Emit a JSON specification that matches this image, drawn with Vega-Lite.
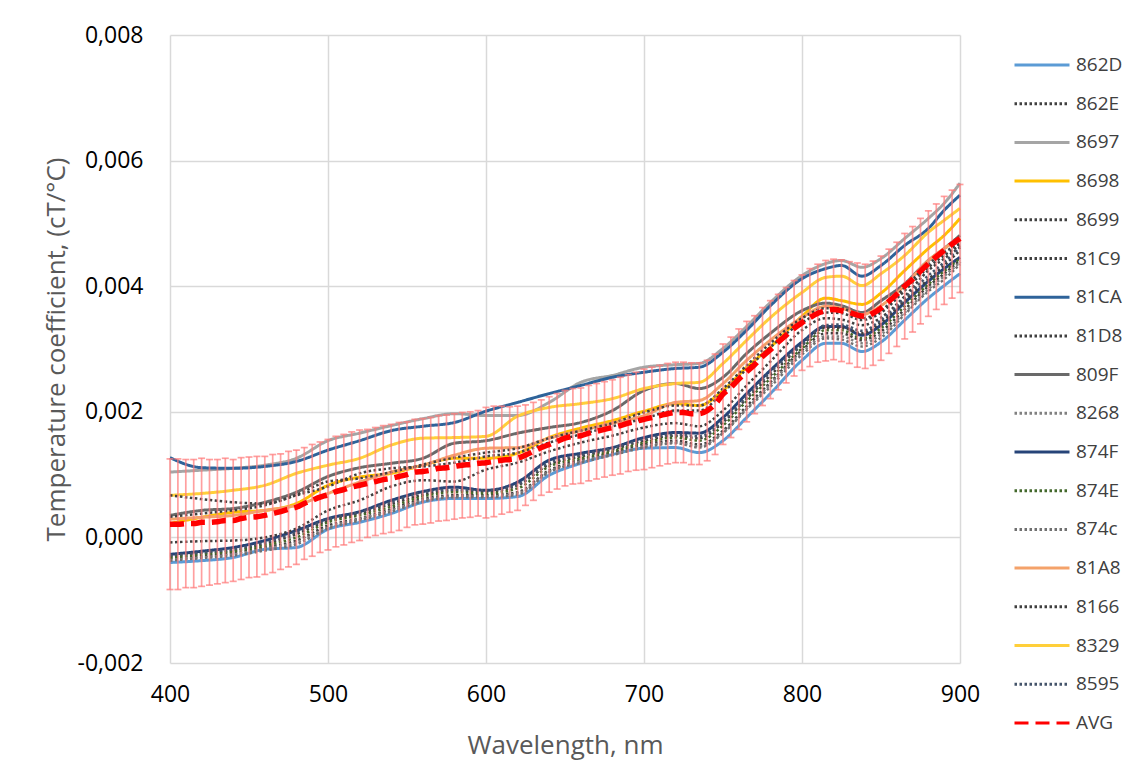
{
"$schema":"https://vega.github.io/schema/vega-lite/v6.json",
"width":790,"height":628,
"autosize":{"type":"none"},
"padding":{"left":170,"top":35,"right":172,"bottom":113},
"background":"white",
"config":{"font":"Open Sans","view":{"stroke":null}},
"datasets":{
"avg":[
{"w":400,"v":0.00021,"e":0.00104},{"w":405,"v":0.00021,"e":0.00104},{"w":410,"v":0.00022,"e":0.00102},{"w":415,"v":0.00022,"e":0.00102},{"w":420,"v":0.00024,"e":0.00102},{"w":425,"v":0.00024,"e":0.001},{"w":430,"v":0.00025,"e":0.00099},{"w":435,"v":0.00027,"e":0.00099},{"w":440,"v":0.00027,"e":0.00097},{"w":445,"v":0.0003,"e":0.00097},
{"w":450,"v":0.00032,"e":0.00096},{"w":455,"v":0.00033,"e":0.00096},{"w":460,"v":0.00035,"e":0.00094},{"w":465,"v":0.00038,"e":0.00094},{"w":470,"v":0.00041,"e":0.00092},{"w":475,"v":0.00045,"e":0.00092},{"w":480,"v":0.00048,"e":0.00091},{"w":485,"v":0.00054,"e":0.00089},{"w":490,"v":0.00059,"e":0.00089},{"w":495,"v":0.00064,"e":0.00088},
{"w":500,"v":0.00068,"e":0.00088},{"w":505,"v":0.00073,"e":0.00088},{"w":510,"v":0.00076,"e":0.00088},{"w":515,"v":0.0008,"e":0.00088},{"w":520,"v":0.00083,"e":0.00088},{"w":525,"v":0.00086,"e":0.00086},{"w":530,"v":0.00089,"e":0.00086},{"w":535,"v":0.00092,"e":0.00086},{"w":540,"v":0.00094,"e":0.00086},{"w":545,"v":0.00097,"e":0.00086},
{"w":550,"v":0.001,"e":0.00084},{"w":555,"v":0.00104,"e":0.00084},{"w":560,"v":0.00105,"e":0.00084},{"w":565,"v":0.00107,"e":0.00084},{"w":570,"v":0.0011,"e":0.00084},{"w":575,"v":0.00111,"e":0.00084},{"w":580,"v":0.00113,"e":0.00084},{"w":585,"v":0.00115,"e":0.00084},{"w":590,"v":0.00116,"e":0.00084},{"w":595,"v":0.00118,"e":0.00084},
{"w":600,"v":0.00119,"e":0.00088},{"w":605,"v":0.00121,"e":0.00088},{"w":610,"v":0.00123,"e":0.00086},{"w":615,"v":0.00124,"e":0.00084},{"w":620,"v":0.00126,"e":0.00083},{"w":625,"v":0.00131,"e":0.0008},{"w":630,"v":0.00137,"e":0.00078},{"w":635,"v":0.00143,"e":0.00076},{"w":640,"v":0.00148,"e":0.00076},{"w":645,"v":0.00153,"e":0.00076},
{"w":650,"v":0.00158,"e":0.00076},{"w":655,"v":0.00161,"e":0.00076},{"w":660,"v":0.00162,"e":0.00076},{"w":665,"v":0.00166,"e":0.00076},{"w":670,"v":0.00169,"e":0.00076},{"w":675,"v":0.00172,"e":0.00076},{"w":680,"v":0.00175,"e":0.00076},{"w":685,"v":0.00178,"e":0.00077},{"w":690,"v":0.00182,"e":0.00077},{"w":695,"v":0.00185,"e":0.00078},
{"w":700,"v":0.00188,"e":0.0008},{"w":705,"v":0.00191,"e":0.0008},{"w":710,"v":0.00194,"e":0.0008},{"w":715,"v":0.00197,"e":0.0008},{"w":720,"v":0.00199,"e":0.0008},{"w":725,"v":0.00199,"e":0.0008},{"w":730,"v":0.00197,"e":0.00081},{"w":735,"v":0.00197,"e":0.00081},{"w":740,"v":0.00202,"e":0.0008},{"w":745,"v":0.00212,"e":0.0008},
{"w":750,"v":0.00228,"e":0.0008},{"w":755,"v":0.00239,"e":0.0008},{"w":760,"v":0.00252,"e":0.0008},{"w":765,"v":0.00264,"e":0.0008},{"w":770,"v":0.00275,"e":0.00078},{"w":775,"v":0.00288,"e":0.00078},{"w":780,"v":0.00299,"e":0.00078},{"w":785,"v":0.00311,"e":0.00076},{"w":790,"v":0.00322,"e":0.00076},{"w":795,"v":0.00333,"e":0.00076},
{"w":800,"v":0.00342,"e":0.00076},{"w":805,"v":0.0035,"e":0.00078},{"w":810,"v":0.00357,"e":0.00078},{"w":815,"v":0.00361,"e":0.0008},{"w":820,"v":0.00363,"e":0.0008},{"w":825,"v":0.00361,"e":0.00081},{"w":830,"v":0.00358,"e":0.00081},{"w":835,"v":0.00354,"e":0.00083},{"w":840,"v":0.00352,"e":0.00083},{"w":845,"v":0.00357,"e":0.00083},
{"w":850,"v":0.00365,"e":0.00083},{"w":855,"v":0.00376,"e":0.00083},{"w":860,"v":0.00387,"e":0.00083},{"w":865,"v":0.004,"e":0.00084},{"w":870,"v":0.00411,"e":0.00084},{"w":875,"v":0.00424,"e":0.00084},{"w":880,"v":0.00436,"e":0.00084},{"w":885,"v":0.00447,"e":0.00084},{"w":890,"v":0.00457,"e":0.00086},{"w":895,"v":0.00467,"e":0.00086},
{"w":900,"v":0.00476,"e":0.00086}
],
"series":[
{"s":"862D","w":400,"v":-0.0004},{"s":"862D","w":420,"v":-0.00037},{"s":"862D","w":440,"v":-0.00032},{"s":"862D","w":460,"v":-0.00019},{"s":"862D","w":480,"v":-0.00016},{"s":"862D","w":500,"v":0.00013},{"s":"862D","w":520,"v":0.00024},{"s":"862D","w":540,"v":0.00038},{"s":"862D","w":560,"v":0.00056},{"s":"862D","w":580,"v":0.00062},{"s":"862D","w":600,"v":0.00062},{"s":"862D","w":620,"v":0.00065},{"s":"862D","w":640,"v":0.00099},{"s":"862D","w":660,"v":0.00118},{"s":"862D","w":680,"v":0.00132},{"s":"862D","w":700,"v":0.00142},{"s":"862D","w":720,"v":0.00143},{"s":"862D","w":735,"v":0.00135},{"s":"862D","w":750,"v":0.00154},{"s":"862D","w":765,"v":0.00191},{"s":"862D","w":780,"v":0.00229},{"s":"862D","w":800,"v":0.00282},{"s":"862D","w":815,"v":0.00309},{"s":"862D","w":825,"v":0.00309},{"s":"862D","w":838,"v":0.00296},{"s":"862D","w":850,"v":0.00311},{"s":"862D","w":865,"v":0.00346},{"s":"862D","w":880,"v":0.00381},{"s":"862D","w":890,"v":0.00401},{"s":"862D","w":900,"v":0.0042},
{"s":"862E","w":400,"v":-0.0003},{"s":"862E","w":420,"v":-0.00025},{"s":"862E","w":440,"v":-0.00021},{"s":"862E","w":460,"v":-0.0001},{"s":"862E","w":480,"v":0.00005},{"s":"862E","w":500,"v":0.00027},{"s":"862E","w":520,"v":0.00038},{"s":"862E","w":540,"v":0.00053},{"s":"862E","w":560,"v":0.00068},{"s":"862E","w":580,"v":0.00075},{"s":"862E","w":600,"v":0.00073},{"s":"862E","w":620,"v":0.00083},{"s":"862E","w":640,"v":0.00116},{"s":"862E","w":660,"v":0.00129},{"s":"862E","w":680,"v":0.0014},{"s":"862E","w":700,"v":0.00154},{"s":"862E","w":720,"v":0.00162},{"s":"862E","w":735,"v":0.00158},{"s":"862E","w":750,"v":0.00183},{"s":"862E","w":765,"v":0.00221},{"s":"862E","w":780,"v":0.00258},{"s":"862E","w":800,"v":0.00306},{"s":"862E","w":815,"v":0.00334},{"s":"862E","w":825,"v":0.00334},{"s":"862E","w":838,"v":0.00325},{"s":"862E","w":850,"v":0.00342},{"s":"862E","w":865,"v":0.00377},{"s":"862E","w":880,"v":0.00411},{"s":"862E","w":890,"v":0.00433},{"s":"862E","w":900,"v":0.00457},
{"s":"8697","w":400,"v":0.00104},{"s":"8697","w":420,"v":0.00107},{"s":"8697","w":440,"v":0.0011},{"s":"8697","w":460,"v":0.00115},{"s":"8697","w":480,"v":0.00126},{"s":"8697","w":500,"v":0.00154},{"s":"8697","w":520,"v":0.00166},{"s":"8697","w":540,"v":0.00178},{"s":"8697","w":560,"v":0.00189},{"s":"8697","w":580,"v":0.00197},{"s":"8697","w":600,"v":0.00194},{"s":"8697","w":620,"v":0.00194},{"s":"8697","w":640,"v":0.00215},{"s":"8697","w":660,"v":0.00247},{"s":"8697","w":680,"v":0.00258},{"s":"8697","w":700,"v":0.00271},{"s":"8697","w":720,"v":0.00275},{"s":"8697","w":735,"v":0.00277},{"s":"8697","w":750,"v":0.00301},{"s":"8697","w":765,"v":0.00336},{"s":"8697","w":780,"v":0.00374},{"s":"8697","w":800,"v":0.00417},{"s":"8697","w":815,"v":0.00436},{"s":"8697","w":825,"v":0.00441},{"s":"8697","w":838,"v":0.0043},{"s":"8697","w":850,"v":0.00444},{"s":"8697","w":865,"v":0.00476},{"s":"8697","w":880,"v":0.00508},{"s":"8697","w":890,"v":0.00532},{"s":"8697","w":900,"v":0.00564},
{"s":"8698","w":400,"v":0.00022},{"s":"8698","w":420,"v":0.00032},{"s":"8698","w":440,"v":0.0004},{"s":"8698","w":460,"v":0.00043},{"s":"8698","w":480,"v":0.00054},{"s":"8698","w":500,"v":0.00083},{"s":"8698","w":520,"v":0.00096},{"s":"8698","w":540,"v":0.00102},{"s":"8698","w":560,"v":0.00115},{"s":"8698","w":580,"v":0.00126},{"s":"8698","w":600,"v":0.00126},{"s":"8698","w":620,"v":0.00134},{"s":"8698","w":640,"v":0.00159},{"s":"8698","w":660,"v":0.00174},{"s":"8698","w":680,"v":0.00186},{"s":"8698","w":700,"v":0.00201},{"s":"8698","w":720,"v":0.00213},{"s":"8698","w":735,"v":0.0021},{"s":"8698","w":750,"v":0.00234},{"s":"8698","w":765,"v":0.00271},{"s":"8698","w":780,"v":0.00303},{"s":"8698","w":800,"v":0.00352},{"s":"8698","w":815,"v":0.00381},{"s":"8698","w":825,"v":0.00377},{"s":"8698","w":838,"v":0.00371},{"s":"8698","w":850,"v":0.00389},{"s":"8698","w":865,"v":0.00425},{"s":"8698","w":880,"v":0.0046},{"s":"8698","w":890,"v":0.00481},{"s":"8698","w":900,"v":0.00508},
{"s":"8699","w":400,"v":0.00067},{"s":"8699","w":420,"v":0.00061},{"s":"8699","w":440,"v":0.00056},{"s":"8699","w":460,"v":0.00054},{"s":"8699","w":480,"v":0.00068},{"s":"8699","w":500,"v":0.00089},{"s":"8699","w":520,"v":0.00094},{"s":"8699","w":540,"v":0.00104},{"s":"8699","w":560,"v":0.00116},{"s":"8699","w":580,"v":0.00127},{"s":"8699","w":600,"v":0.00135},{"s":"8699","w":620,"v":0.00142},{"s":"8699","w":640,"v":0.00158},{"s":"8699","w":660,"v":0.0017},{"s":"8699","w":680,"v":0.00182},{"s":"8699","w":700,"v":0.00199},{"s":"8699","w":720,"v":0.0021},{"s":"8699","w":735,"v":0.0021},{"s":"8699","w":750,"v":0.00237},{"s":"8699","w":765,"v":0.00274},{"s":"8699","w":780,"v":0.00309},{"s":"8699","w":800,"v":0.00349},{"s":"8699","w":815,"v":0.00365},{"s":"8699","w":825,"v":0.00365},{"s":"8699","w":838,"v":0.00349},{"s":"8699","w":850,"v":0.00361},{"s":"8699","w":865,"v":0.00398},{"s":"8699","w":880,"v":0.00435},{"s":"8699","w":890,"v":0.00454},{"s":"8699","w":900,"v":0.00468},
{"s":"81C9","w":400,"v":0.00033},{"s":"81C9","w":420,"v":0.00038},{"s":"81C9","w":440,"v":0.00043},{"s":"81C9","w":460,"v":0.00051},{"s":"81C9","w":480,"v":0.00067},{"s":"81C9","w":500,"v":0.00081},{"s":"81C9","w":520,"v":0.00102},{"s":"81C9","w":540,"v":0.0011},{"s":"81C9","w":560,"v":0.00113},{"s":"81C9","w":580,"v":0.00119},{"s":"81C9","w":600,"v":0.00129},{"s":"81C9","w":620,"v":0.00135},{"s":"81C9","w":640,"v":0.00151},{"s":"81C9","w":660,"v":0.00164},{"s":"81C9","w":680,"v":0.00177},{"s":"81C9","w":700,"v":0.00189},{"s":"81C9","w":720,"v":0.00202},{"s":"81C9","w":735,"v":0.00202},{"s":"81C9","w":750,"v":0.00231},{"s":"81C9","w":765,"v":0.00268},{"s":"81C9","w":780,"v":0.00303},{"s":"81C9","w":800,"v":0.00342},{"s":"81C9","w":815,"v":0.00358},{"s":"81C9","w":825,"v":0.00357},{"s":"81C9","w":838,"v":0.00346},{"s":"81C9","w":850,"v":0.00358},{"s":"81C9","w":865,"v":0.00393},{"s":"81C9","w":880,"v":0.0043},{"s":"81C9","w":890,"v":0.00449},{"s":"81C9","w":900,"v":0.00465},
{"s":"81CA","w":400,"v":0.00127},{"s":"81CA","w":420,"v":0.00111},{"s":"81CA","w":440,"v":0.0011},{"s":"81CA","w":460,"v":0.00113},{"s":"81CA","w":480,"v":0.00121},{"s":"81CA","w":500,"v":0.00139},{"s":"81CA","w":520,"v":0.00154},{"s":"81CA","w":540,"v":0.0017},{"s":"81CA","w":560,"v":0.00177},{"s":"81CA","w":580,"v":0.00183},{"s":"81CA","w":600,"v":0.00201},{"s":"81CA","w":620,"v":0.00215},{"s":"81CA","w":640,"v":0.00229},{"s":"81CA","w":660,"v":0.00242},{"s":"81CA","w":680,"v":0.00255},{"s":"81CA","w":700,"v":0.00263},{"s":"81CA","w":720,"v":0.00269},{"s":"81CA","w":735,"v":0.00271},{"s":"81CA","w":750,"v":0.00295},{"s":"81CA","w":765,"v":0.0033},{"s":"81CA","w":780,"v":0.00369},{"s":"81CA","w":800,"v":0.00412},{"s":"81CA","w":815,"v":0.00428},{"s":"81CA","w":825,"v":0.00433},{"s":"81CA","w":838,"v":0.00416},{"s":"81CA","w":850,"v":0.00433},{"s":"81CA","w":865,"v":0.00465},{"s":"81CA","w":880,"v":0.00492},{"s":"81CA","w":890,"v":0.00521},{"s":"81CA","w":900,"v":0.00545},
{"s":"81D8","w":400,"v":-0.00033},{"s":"81D8","w":420,"v":-0.0003},{"s":"81D8","w":440,"v":-0.00025},{"s":"81D8","w":460,"v":-0.00016},{"s":"81D8","w":480,"v":-0.00005},{"s":"81D8","w":500,"v":0.00019},{"s":"81D8","w":520,"v":0.0003},{"s":"81D8","w":540,"v":0.00045},{"s":"81D8","w":560,"v":0.00061},{"s":"81D8","w":580,"v":0.00067},{"s":"81D8","w":600,"v":0.00067},{"s":"81D8","w":620,"v":0.00072},{"s":"81D8","w":640,"v":0.00107},{"s":"81D8","w":660,"v":0.00123},{"s":"81D8","w":680,"v":0.00135},{"s":"81D8","w":700,"v":0.00148},{"s":"81D8","w":720,"v":0.00154},{"s":"81D8","w":735,"v":0.00148},{"s":"81D8","w":750,"v":0.0017},{"s":"81D8","w":765,"v":0.00209},{"s":"81D8","w":780,"v":0.00247},{"s":"81D8","w":800,"v":0.00298},{"s":"81D8","w":815,"v":0.00325},{"s":"81D8","w":825,"v":0.00325},{"s":"81D8","w":838,"v":0.00314},{"s":"81D8","w":850,"v":0.00328},{"s":"81D8","w":865,"v":0.00363},{"s":"81D8","w":880,"v":0.004},{"s":"81D8","w":890,"v":0.0042},{"s":"81D8","w":900,"v":0.00441},
{"s":"809F","w":400,"v":0.00035},{"s":"809F","w":420,"v":0.00043},{"s":"809F","w":440,"v":0.00046},{"s":"809F","w":460,"v":0.00056},{"s":"809F","w":480,"v":0.00072},{"s":"809F","w":500,"v":0.00097},{"s":"809F","w":520,"v":0.00111},{"s":"809F","w":540,"v":0.00118},{"s":"809F","w":560,"v":0.00126},{"s":"809F","w":580,"v":0.0015},{"s":"809F","w":600,"v":0.00154},{"s":"809F","w":620,"v":0.00166},{"s":"809F","w":640,"v":0.00175},{"s":"809F","w":660,"v":0.00183},{"s":"809F","w":680,"v":0.00202},{"s":"809F","w":700,"v":0.00234},{"s":"809F","w":720,"v":0.00245},{"s":"809F","w":735,"v":0.00237},{"s":"809F","w":750,"v":0.00255},{"s":"809F","w":765,"v":0.00293},{"s":"809F","w":780,"v":0.00325},{"s":"809F","w":800,"v":0.00361},{"s":"809F","w":815,"v":0.00373},{"s":"809F","w":825,"v":0.00369},{"s":"809F","w":838,"v":0.00358},{"s":"809F","w":850,"v":0.00377},{"s":"809F","w":865,"v":0.00404},{"s":"809F","w":880,"v":0.00441},{"s":"809F","w":890,"v":0.0046},{"s":"809F","w":900,"v":0.00481},
{"s":"8268","w":400,"v":-0.00035},{"s":"8268","w":420,"v":-0.00032},{"s":"8268","w":440,"v":-0.00027},{"s":"8268","w":460,"v":-0.00018},{"s":"8268","w":480,"v":-0.00008},{"s":"8268","w":500,"v":0.00016},{"s":"8268","w":520,"v":0.00029},{"s":"8268","w":540,"v":0.00043},{"s":"8268","w":560,"v":0.00059},{"s":"8268","w":580,"v":0.00065},{"s":"8268","w":600,"v":0.00065},{"s":"8268","w":620,"v":0.0007},{"s":"8268","w":640,"v":0.00105},{"s":"8268","w":660,"v":0.00121},{"s":"8268","w":680,"v":0.00132},{"s":"8268","w":700,"v":0.00145},{"s":"8268","w":720,"v":0.00151},{"s":"8268","w":735,"v":0.00145},{"s":"8268","w":750,"v":0.00167},{"s":"8268","w":765,"v":0.00205},{"s":"8268","w":780,"v":0.00244},{"s":"8268","w":800,"v":0.00295},{"s":"8268","w":815,"v":0.0032},{"s":"8268","w":825,"v":0.0032},{"s":"8268","w":838,"v":0.00309},{"s":"8268","w":850,"v":0.00323},{"s":"8268","w":865,"v":0.00358},{"s":"8268","w":880,"v":0.00395},{"s":"8268","w":890,"v":0.00416},{"s":"8268","w":900,"v":0.00438},
{"s":"874F","w":400,"v":-0.00027},{"s":"874F","w":420,"v":-0.00022},{"s":"874F","w":440,"v":-0.00016},{"s":"874F","w":460,"v":-0.00005},{"s":"874F","w":480,"v":0.00011},{"s":"874F","w":500,"v":0.0003},{"s":"874F","w":520,"v":0.00041},{"s":"874F","w":540,"v":0.00059},{"s":"874F","w":560,"v":0.00073},{"s":"874F","w":580,"v":0.0008},{"s":"874F","w":600,"v":0.00075},{"s":"874F","w":620,"v":0.00088},{"s":"874F","w":640,"v":0.00123},{"s":"874F","w":660,"v":0.00134},{"s":"874F","w":680,"v":0.00143},{"s":"874F","w":700,"v":0.00159},{"s":"874F","w":720,"v":0.00167},{"s":"874F","w":735,"v":0.00166},{"s":"874F","w":750,"v":0.00191},{"s":"874F","w":765,"v":0.00229},{"s":"874F","w":780,"v":0.00266},{"s":"874F","w":800,"v":0.00311},{"s":"874F","w":815,"v":0.00336},{"s":"874F","w":825,"v":0.00336},{"s":"874F","w":838,"v":0.00322},{"s":"874F","w":850,"v":0.00338},{"s":"874F","w":865,"v":0.00374},{"s":"874F","w":880,"v":0.00408},{"s":"874F","w":890,"v":0.00428},{"s":"874F","w":900,"v":0.00446},
{"s":"874E","w":400,"v":-0.00032},{"s":"874E","w":420,"v":-0.00027},{"s":"874E","w":440,"v":-0.00022},{"s":"874E","w":460,"v":-0.00013},{"s":"874E","w":480,"v":0.0},{"s":"874E","w":500,"v":0.00024},{"s":"874E","w":520,"v":0.00035},{"s":"874E","w":540,"v":0.00049},{"s":"874E","w":560,"v":0.00065},{"s":"874E","w":580,"v":0.00072},{"s":"874E","w":600,"v":0.0007},{"s":"874E","w":620,"v":0.00078},{"s":"874E","w":640,"v":0.00113},{"s":"874E","w":660,"v":0.00126},{"s":"874E","w":680,"v":0.00137},{"s":"874E","w":700,"v":0.00151},{"s":"874E","w":720,"v":0.00159},{"s":"874E","w":735,"v":0.00154},{"s":"874E","w":750,"v":0.00178},{"s":"874E","w":765,"v":0.00217},{"s":"874E","w":780,"v":0.00253},{"s":"874E","w":800,"v":0.00301},{"s":"874E","w":815,"v":0.0033},{"s":"874E","w":825,"v":0.0033},{"s":"874E","w":838,"v":0.00317},{"s":"874E","w":850,"v":0.00333},{"s":"874E","w":865,"v":0.00368},{"s":"874E","w":880,"v":0.00403},{"s":"874E","w":890,"v":0.00424},{"s":"874E","w":900,"v":0.00444},
{"s":"874c","w":400,"v":-0.00037},{"s":"874c","w":420,"v":-0.00033},{"s":"874c","w":440,"v":-0.00029},{"s":"874c","w":460,"v":-0.00021},{"s":"874c","w":480,"v":-0.00011},{"s":"874c","w":500,"v":0.00014},{"s":"874c","w":520,"v":0.00027},{"s":"874c","w":540,"v":0.00041},{"s":"874c","w":560,"v":0.00057},{"s":"874c","w":580,"v":0.00064},{"s":"874c","w":600,"v":0.00064},{"s":"874c","w":620,"v":0.00068},{"s":"874c","w":640,"v":0.00104},{"s":"874c","w":660,"v":0.00119},{"s":"874c","w":680,"v":0.00131},{"s":"874c","w":700,"v":0.00143},{"s":"874c","w":720,"v":0.0015},{"s":"874c","w":735,"v":0.00143},{"s":"874c","w":750,"v":0.00166},{"s":"874c","w":765,"v":0.00204},{"s":"874c","w":780,"v":0.0024},{"s":"874c","w":800,"v":0.00291},{"s":"874c","w":815,"v":0.00317},{"s":"874c","w":825,"v":0.00315},{"s":"874c","w":838,"v":0.00304},{"s":"874c","w":850,"v":0.00318},{"s":"874c","w":865,"v":0.00355},{"s":"874c","w":880,"v":0.00392},{"s":"874c","w":890,"v":0.00411},{"s":"874c","w":900,"v":0.00435},
{"s":"81A8","w":400,"v":0.00029},{"s":"81A8","w":420,"v":0.00032},{"s":"81A8","w":440,"v":0.00035},{"s":"81A8","w":460,"v":0.00043},{"s":"81A8","w":480,"v":0.00051},{"s":"81A8","w":500,"v":0.0007},{"s":"81A8","w":520,"v":0.00088},{"s":"81A8","w":540,"v":0.00104},{"s":"81A8","w":560,"v":0.00115},{"s":"81A8","w":580,"v":0.00131},{"s":"81A8","w":600,"v":0.00142},{"s":"81A8","w":620,"v":0.00143},{"s":"81A8","w":640,"v":0.00158},{"s":"81A8","w":660,"v":0.0017},{"s":"81A8","w":680,"v":0.00182},{"s":"81A8","w":700,"v":0.00194},{"s":"81A8","w":720,"v":0.00215},{"s":"81A8","w":735,"v":0.00218},{"s":"81A8","w":750,"v":0.00245},{"s":"81A8","w":765,"v":0.00282},{"s":"81A8","w":780,"v":0.00314},{"s":"81A8","w":800,"v":0.0035},{"s":"81A8","w":815,"v":0.00368},{"s":"81A8","w":825,"v":0.00365},{"s":"81A8","w":838,"v":0.00355},{"s":"81A8","w":850,"v":0.00369},{"s":"81A8","w":865,"v":0.00401},{"s":"81A8","w":880,"v":0.00441},{"s":"81A8","w":890,"v":0.0046},{"s":"81A8","w":900,"v":0.00476},
{"s":"8166","w":400,"v":-0.00008},{"s":"8166","w":420,"v":-0.00006},{"s":"8166","w":440,"v":-0.00005},{"s":"8166","w":460,"v":0.0},{"s":"8166","w":480,"v":0.00014},{"s":"8166","w":500,"v":0.00043},{"s":"8166","w":520,"v":0.00059},{"s":"8166","w":540,"v":0.00081},{"s":"8166","w":560,"v":0.00091},{"s":"8166","w":580,"v":0.00089},{"s":"8166","w":600,"v":0.00108},{"s":"8166","w":620,"v":0.00119},{"s":"8166","w":640,"v":0.00137},{"s":"8166","w":660,"v":0.00151},{"s":"8166","w":680,"v":0.00162},{"s":"8166","w":700,"v":0.00175},{"s":"8166","w":720,"v":0.00182},{"s":"8166","w":735,"v":0.00177},{"s":"8166","w":750,"v":0.00202},{"s":"8166","w":765,"v":0.00242},{"s":"8166","w":780,"v":0.0028},{"s":"8166","w":800,"v":0.0033},{"s":"8166","w":815,"v":0.00349},{"s":"8166","w":825,"v":0.00347},{"s":"8166","w":838,"v":0.00338},{"s":"8166","w":850,"v":0.0035},{"s":"8166","w":865,"v":0.00384},{"s":"8166","w":880,"v":0.00425},{"s":"8166","w":890,"v":0.00444},{"s":"8166","w":900,"v":0.00462},
{"s":"8329","w":400,"v":0.00067},{"s":"8329","w":420,"v":0.0007},{"s":"8329","w":440,"v":0.00075},{"s":"8329","w":460,"v":0.00083},{"s":"8329","w":480,"v":0.00102},{"s":"8329","w":500,"v":0.00115},{"s":"8329","w":520,"v":0.00126},{"s":"8329","w":540,"v":0.00147},{"s":"8329","w":560,"v":0.00158},{"s":"8329","w":580,"v":0.00159},{"s":"8329","w":600,"v":0.00161},{"s":"8329","w":620,"v":0.00193},{"s":"8329","w":640,"v":0.00207},{"s":"8329","w":660,"v":0.00213},{"s":"8329","w":680,"v":0.00221},{"s":"8329","w":700,"v":0.00237},{"s":"8329","w":720,"v":0.00245},{"s":"8329","w":735,"v":0.00247},{"s":"8329","w":750,"v":0.00277},{"s":"8329","w":765,"v":0.00314},{"s":"8329","w":780,"v":0.0035},{"s":"8329","w":800,"v":0.0039},{"s":"8329","w":815,"v":0.00414},{"s":"8329","w":825,"v":0.00416},{"s":"8329","w":838,"v":0.00401},{"s":"8329","w":850,"v":0.0042},{"s":"8329","w":865,"v":0.00449},{"s":"8329","w":880,"v":0.00486},{"s":"8329","w":890,"v":0.00505},{"s":"8329","w":900,"v":0.00524},
{"s":"8595","w":400,"v":-0.00029},{"s":"8595","w":420,"v":-0.00024},{"s":"8595","w":440,"v":-0.00019},{"s":"8595","w":460,"v":-0.00008},{"s":"8595","w":480,"v":0.00008},{"s":"8595","w":500,"v":0.00029},{"s":"8595","w":520,"v":0.0004},{"s":"8595","w":540,"v":0.00056},{"s":"8595","w":560,"v":0.00072},{"s":"8595","w":580,"v":0.00076},{"s":"8595","w":600,"v":0.00075},{"s":"8595","w":620,"v":0.00084},{"s":"8595","w":640,"v":0.00119},{"s":"8595","w":660,"v":0.00131},{"s":"8595","w":680,"v":0.00142},{"s":"8595","w":700,"v":0.00156},{"s":"8595","w":720,"v":0.00164},{"s":"8595","w":735,"v":0.00161},{"s":"8595","w":750,"v":0.00186},{"s":"8595","w":765,"v":0.00224},{"s":"8595","w":780,"v":0.00263},{"s":"8595","w":800,"v":0.00307},{"s":"8595","w":815,"v":0.00338},{"s":"8595","w":825,"v":0.00339},{"s":"8595","w":838,"v":0.00329},{"s":"8595","w":850,"v":0.00346},{"s":"8595","w":865,"v":0.00381},{"s":"8595","w":880,"v":0.00417},{"s":"8595","w":890,"v":0.00438},{"s":"8595","w":900,"v":0.00462}
]
},
"encoding":{
"x":{"field":"w","type":"quantitative","title":"Wavelength, nm",
 "scale":{"domain":[400,900],"nice":false,"zero":false},
 "axis":{"values":[400,500,600,700,800,900],"labelFlush":false,"grid":true,"gridColor":"#D9D9D9","gridWidth":1.5,"domain":false,"ticks":false,"labelFontSize":23,"labelColor":"#000000","labelPadding":20,"titleFontSize":26,"titleColor":"#595959","titleFontWeight":"normal","titlePadding":26}},
"y":{"field":"v","type":"quantitative","title":"Temperature coefficient, (cT/°C)",
 "scale":{"domain":[-0.002,0.008],"nice":false,"zero":false},
 "axis":{"values":[-0.002,0,0.002,0.004,0.006,0.008],"labelFlush":false,"labelExpr":"replace(replace(format(datum.value,'.3f'),'.',','),'\u2212','-')","grid":true,"gridColor":"#D9D9D9","gridWidth":1.5,"domain":false,"ticks":false,"labelFontSize":23,"labelColor":"#000000","labelPadding":27,"titleFontSize":26,"titleColor":"#595959","titleFontWeight":"normal","titlePadding":8}},
"color":{"field":"s","type":"nominal",
  "scale":{"domain":["862D","862E","8697","8698","8699","81C9","81CA","81D8","809F","8268","874F","874E","874c","81A8","8166","8329","8595","AVG"],
           "range":["#5B9BD5","#404040","#A5A5A5","#FFC000","#404040","#404040","#2E639A","#404040","#6A6A6A","#808080","#264478","#43682B","#707070","#F4A26A","#404040","#FFCF3A","#44546A","#FF0000"]},
  "legend":{"orient":"none","legendX":843,"legendY":22,"title":null,"labelFontSize":19,"labelColor":"#404040","symbolSize":3025,"symbolStrokeWidth":3,"clipHeight":16,"rowPadding":19.7,"labelOffset":5,"symbolType":"stroke","padding":0}},
"strokeDash":{"field":"s","type":"nominal",
  "scale":{"domain":["862D","862E","8697","8698","8699","81C9","81CA","81D8","809F","8268","874F","874E","874c","81A8","8166","8329","8595","AVG"],
           "range":[[1,0],[2.5,2.5],[1,0],[1,0],[2.5,2.5],[2.5,2.5],[1,0],[2.5,2.5],[1,0],[2.5,2.5],[1,0],[2.5,2.5],[2.5,2.5],[1,0],[2.5,2.5],[1,0],[2.5,2.5],[14,7]]}}
},
"layer":[
{"data":{"name":"series"},"transform":[{"filter":{"field":"s","oneOf":["862D","8697","8698","81CA","809F","874F","81A8","8329"]}}],
 "mark":{"type":"line","interpolate":"monotone","strokeWidth":3}},
{"data":{"name":"series"},"transform":[{"filter":{"field":"s","oneOf":["862E","8699","81C9","81D8","8268","874E","874c","8166","8595"]}}],
 "mark":{"type":"line","interpolate":"monotone","strokeWidth":2.5}},
{"data":{"name":"avg"},"mark":{"type":"errorbar","ticks":{"size":7},"color":"#FF7A7A","opacity":0.72,"thickness":1.7},
 "encoding":{"yError":{"field":"e"},"color":{"value":"#FF7A7A"},"strokeDash":{"value":[1,0]}}},
{"data":{"name":"avg"},"mark":{"type":"line","interpolate":"monotone","strokeWidth":5.5},
 "encoding":{"color":{"datum":"AVG","type":"nominal"},"strokeDash":{"datum":"AVG","type":"nominal"}}}
]
}
